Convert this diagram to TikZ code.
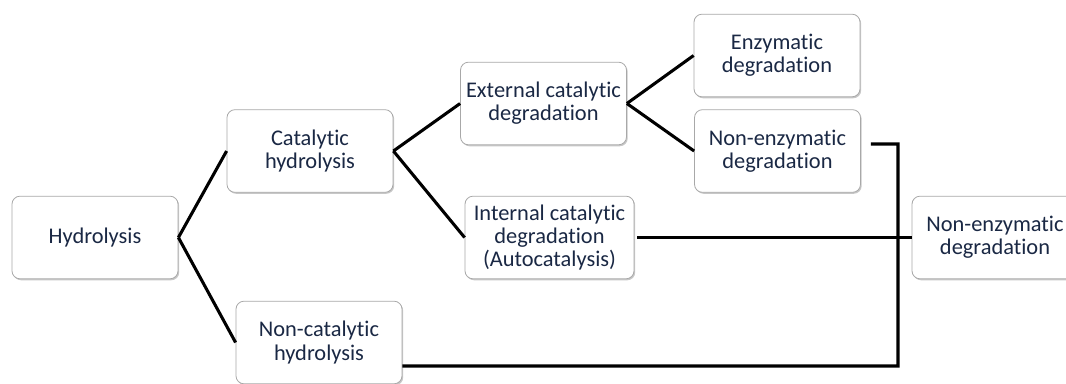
\documentclass[tikz,border=0pt]{standalone}
\usepackage{fontspec}
\setmainfont{Carlito}[Ligatures={NoCommon,NoContextual}]
\usetikzlibrary{positioning,shadows}
\definecolor{htext}{HTML}{1A2844}
\definecolor{hedge}{HTML}{A8A8A8}
\tikzset{
  box/.style={draw=hedge,fill=white,rounded corners=6pt,line width=0.6pt,align=center,text=htext,font=\fontsize{16.8}{17.4}\selectfont,inner xsep=1pt,minimum width=124.5pt,minimum height=62pt,drop shadow={shadow xshift=0.9pt,shadow yshift=-1.1pt,opacity=0.22,fill=black}},
  link/.style={line width=2.3pt,draw=black,line join=miter},
}
\begin{document}
\begin{tikzpicture}[x=0.75pt,y=-0.75pt]
  \clip (0,0) rectangle (1066,383);
  \fill[white] (0,0) rectangle (1066,383);
  \node[box] (hydro) at (95,237.5) {Hydrolysis};
  \node[box] (cat) at (310,151) {Catalytic\\hydrolysis};
  \node[box] (noncat) at (319,342.5) {Non-catalytic\\hydrolysis};
  \node[box] (ext) at (543.5,103.5) {External catalytic\\degradation};
  \node[box,minimum width=126.75pt] (int) at (549.5,237.5) {Internal catalytic\\degradation\\(Autocatalysis)};
  \node[box] (enz) at (777,55.5) {Enzymatic\\degradation};
  \node[box] (nonenz) at (777.5,151) {Non-enzymatic\\degradation};
  \node[box] (final) at (995,237.5) {Non-enzymatic\\degradation};
  \coordinate (jtop) at (898,144);
  \coordinate (jbot) at (898,366);
  \draw[link] (hydro.east) -- (cat.west);
  \draw[link] (hydro.east) -- (noncat.west);
  \draw[link] (cat.east) -- (ext.west);
  \draw[link] (cat.east) -- (int.west);
  \draw[link] (ext.east) -- (enz.west);
  \draw[link] (ext.east) -- (nonenz.west);
  \draw[link] ([xshift=7.5pt,yshift=5.25pt]nonenz.east) -- (jtop) -- (jbot) -- ([yshift=-17.6pt]noncat.east);
  \draw[link] ([xshift=2pt]int.east) -- (final.west);
\end{tikzpicture}
\end{document}
